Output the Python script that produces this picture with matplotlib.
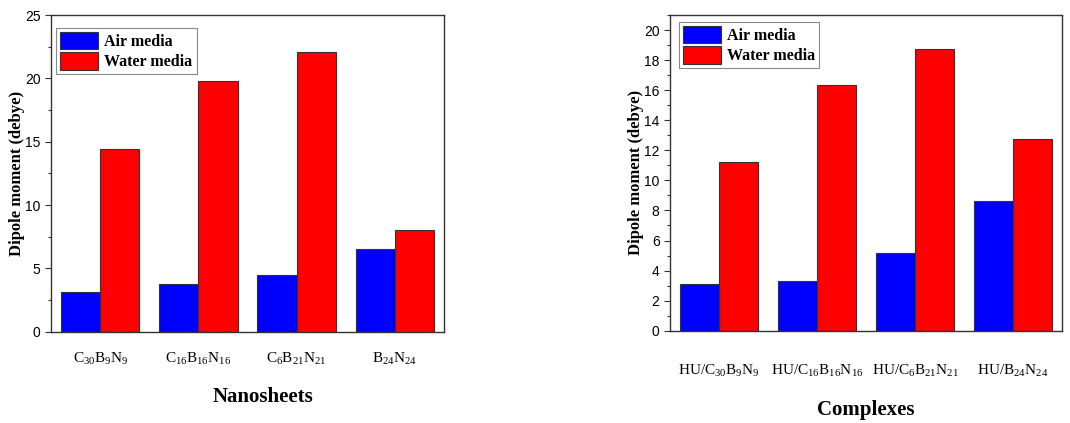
import matplotlib.pyplot as plt
import numpy as np
from matplotlib.ticker import MultipleLocator

plt.rcParams['mathtext.fontset'] = 'custom'
plt.rcParams['mathtext.rm'] = 'Liberation Serif'
plt.rcParams['mathtext.it'] = 'Liberation Serif:italic'

# data
sheets = [r'C$_{30}$B$_{9}$N$_{9}$', r'C$_{16}$B$_{16}$N$_{16}$',
          r'C$_{6}$B$_{21}$N$_{21}$', r'B$_{24}$N$_{24}$']
sheets_air = [3.15, 3.77, 4.46, 6.54]
sheets_water = [14.45, 19.82, 22.05, 8.04]

complexes = [r'HU/C$_{30}$B$_{9}$N$_{9}$', r'HU/C$_{16}$B$_{16}$N$_{16}$',
             r'HU/C$_{6}$B$_{21}$N$_{21}$', r'HU/B$_{24}$N$_{24}$']
complex_air = [3.1, 3.3, 5.16, 8.63]
complex_water = [11.24, 16.35, 18.74, 12.78]

fig = plt.figure(figsize=(10.7, 4.23), dpi=100)
ax1 = fig.add_axes([0.0477, 0.2158, 0.3673, 0.7487])
ax2 = fig.add_axes([0.6262, 0.2182, 0.3664, 0.7463])

serif = 'Liberation Serif'
sans = 'Liberation Sans'

def draw(ax, labels, air, water, xlab, ymax, major, minor, pad, xlabpos, legpos, ylpad):
    x = np.arange(len(labels))
    w = 0.4
    ax.bar(x - w / 2, air, w, color='#0000ff', edgecolor='#333333', linewidth=0.8, label='Air media')
    ax.bar(x + w / 2, water, w, color='#ff0000', edgecolor='#333333', linewidth=0.8, label='Water media')
    ax.set_xlim(-0.5, 3.5)
    ax.set_ylim(0, ymax)
    ax.set_xticks(x)
    ax.set_xticklabels(labels, fontsize=11, fontfamily=serif)
    ax.tick_params(axis='x', length=0, pad=pad)
    ax.yaxis.set_major_locator(MultipleLocator(major))
    ax.yaxis.set_minor_locator(MultipleLocator(minor))
    ax.tick_params(axis='y', which='major', direction='out', length=4, width=0.8, labelsize=10, colors='#333333')
    ax.tick_params(axis='y', which='minor', direction='out', length=2.5, width=0.8, colors='#333333')
    for lbl in ax.get_yticklabels():
        lbl.set_fontfamily(sans)
        lbl.set_color('black')
    for s in ax.spines.values():
        s.set_color('#333333')
        s.set_linewidth(1.0)
    ax.set_ylabel('Dipole moment (debye)', fontsize=12, fontweight='bold', fontfamily=serif, labelpad=ylpad)
    ax.set_xlabel(xlab, fontsize=15, fontweight='bold', fontfamily=serif)
    ax.xaxis.set_label_coords(*xlabpos)
    leg = ax.legend(loc='upper left', bbox_to_anchor=legpos,
                    prop={'family': serif, 'weight': 'bold', 'size': 11.5},
                    fancybox=False, edgecolor='#888888', handlelength=2.4, handleheight=1.3,
                    borderpad=0.25, labelspacing=0.15, handletextpad=0.4, borderaxespad=0,
                    framealpha=1)
    leg.get_frame().set_linewidth(0.8)

draw(ax1, sheets, sheets_air, sheets_water, 'Nanosheets', 25, 5, 2.5, 14, (0.539, -0.176), (0.012, 0.96), 0)
draw(ax2, complexes, complex_air, complex_water, 'Complexes', 21, 2, 1, 23, (0.5, -0.22), (0.022, 0.978), 0)

fig.savefig('out.png', dpi=100)
